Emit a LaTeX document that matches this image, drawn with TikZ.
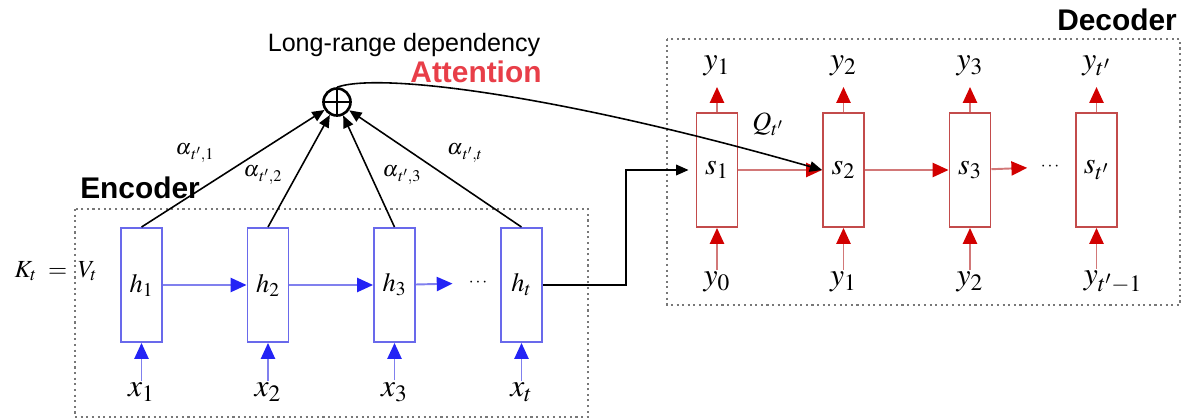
\documentclass[tikz,border=0pt]{standalone}
\usepackage{mathptmx}
\usepackage[no-math]{fontspec}
\setmainfont{Liberation Serif}
\setsansfont{Liberation Sans}
\usetikzlibrary{arrows.meta}
\definecolor{encline}{RGB}{105,105,235}
\definecolor{enctip}{RGB}{35,35,245}
\definecolor{decline}{RGB}{195,75,75}
\definecolor{dectip}{RGB}{210,0,0}
\definecolor{attred}{RGB}{232,62,72}
\definecolor{boxgray}{RGB}{120,120,120}
\begin{document}
\begin{tikzpicture}[x=0.02cm,y=-0.02cm,
  hbox/.style={draw=encline,line width=1.1pt,minimum width=0.82cm,minimum height=2.28cm,inner sep=0pt,font=\fontsize{15}{17}\selectfont},
  sbox/.style={draw=decline,line width=1.1pt,minimum width=0.82cm,minimum height=2.28cm,inner sep=0pt,font=\fontsize{17}{19}\selectfont},
  lab/.style={inner sep=1pt,font=\fontsize{18}{20}\selectfont},
  alab/.style={inner sep=0pt,font=\fontsize{12.5}{14}\selectfont},
  dots/.style={inner sep=1pt,font=\fontsize{10}{12}\selectfont},
  title/.style={font=\sffamily\bfseries\fontsize{17}{20}\selectfont},
  encarrow/.style={encline!85,line width=1.1pt,-{Triangle[length=9pt,width=8pt,color=enctip]}},
  decarrow/.style={decline!75,line width=1.1pt,-{Triangle[length=9pt,width=8pt,color=dectip]}},
  attarrow/.style={line width=0.9pt,-{Triangle[length=7pt,width=6pt]}},
  group/.style={boxgray,dotted,line width=1.2pt}]
\useasboundingbox (0,0) rectangle (1192,419);
\draw[group] (75,209) rectangle (588,417);
\draw[group] (667,39) rectangle (1180,305);
\node[title] (enc) at (140,188) {Encoder};
\node[title] (dec) at (1117,20) {Decoder};
\node[font=\sffamily\fontsize{14.3}{17}\selectfont] (lrd) at (404,45) {Long-range dependency};
\node[title,attred] (att) at (476,72) {Attention};
\node[font=\fontsize{14}{16}\selectfont] (kv) at (56,271) {$K_t\;=\;V_t$};

\node[hbox] (h1) at (141.5,285) {$h_1$};
\node[hbox] (h2) at (268,285) {$h_2$};
\node[hbox] (h3) at (394.5,285) {$h_3$};
\node[hbox] (ht) at (521.5,285) {$h_t$};
\node[dots] (edots) at (478,283) {$\cdots$};
\node[lab] (x1) at (141.5,392) {$x_1$};
\node[lab] (x2) at (268,392) {$x_2$};
\node[lab] (x3) at (394.5,392) {$x_3$};
\node[lab] (xt) at (521.5,392) {$x_t$};
\foreach \n in {1,2,3,t}
  \draw[encarrow] (x\n) -- (h\n);
\draw[encarrow] (h1) -- (h2);
\draw[encarrow] (h2) -- (h3);
\draw[encarrow,shorten >=8pt] (h3) -- (edots);

\node[circle,draw,line width=1.5pt,minimum size=0.54cm,inner sep=0pt] (plus) at (337,102) {};
\draw[line width=1.5pt] (plus.north) -- (plus.south) (plus.west) -- (plus.east);
\foreach \n in {1,2,3,t}
  \draw[attarrow] (h\n.north) -- (plus);
\node[alab] (alpha1) at (195,153) {$\alpha_{\,t'{,}1}$};
\node[alab] (alpha2) at (263,175) {$\alpha_{\,t'{,}2}$};
\node[alab] (alpha3) at (402,175) {$\alpha_{\,t'{,}3}$};
\node[alab] (alphat) at (465,153) {$\alpha_{\,t'{,}t}$};

\node[sbox] (s1) at (717,170) {$s_1$};
\node[sbox] (s2) at (843.5,170) {$s_2$};
\node[sbox] (s3) at (970,170) {$s_3$};
\node[sbox] (st) at (1096.5,170) {$s_{t'}$};
\node[dots] (ddots) at (1050,167) {$\cdots$};
\node[lab] (yo1) at (717,66) {$y_1$};
\node[lab] (yo2) at (843.5,66) {$y_2$};
\node[lab] (yo3) at (970,66) {$y_3$};
\node[lab] (yot) at (1096.5,66) {$y_{t'}$};
\node[lab] (yi1) at (717,282) {$y_0$};
\node[lab] (yi2) at (843.5,282) {$y_1$};
\node[lab] (yi3) at (970,282) {$y_2$};
\node[lab] (yit) at (1113,282) {$y_{t'-1}$};
\foreach \n in {1,2,3} {
  \draw[decarrow] (yi\n) -- (s\n);
  \draw[decarrow,shorten >=5pt] (s\n) -- (yo\n);
}
\draw[decarrow] (yit.north -| st.south) -- (st);
\draw[decarrow,shorten >=5pt] (st) -- (yot);
\draw[decarrow] (s1) -- (s2);
\draw[decarrow] (s2) -- (s3);
\draw[decarrow,shorten >=6.5pt] (s3) -- (ddots);
\node[font=\fontsize{15}{17}\selectfont] (q) at (768,124) {$Q_{t'}$};

\draw[attarrow,shorten >=4pt] (ht.east) -- ++(83,0) |- (s1.west);
\draw[attarrow] (plus.north) .. controls (380,72) and (560,95) .. (s2.west);
\end{tikzpicture}
\end{document}
